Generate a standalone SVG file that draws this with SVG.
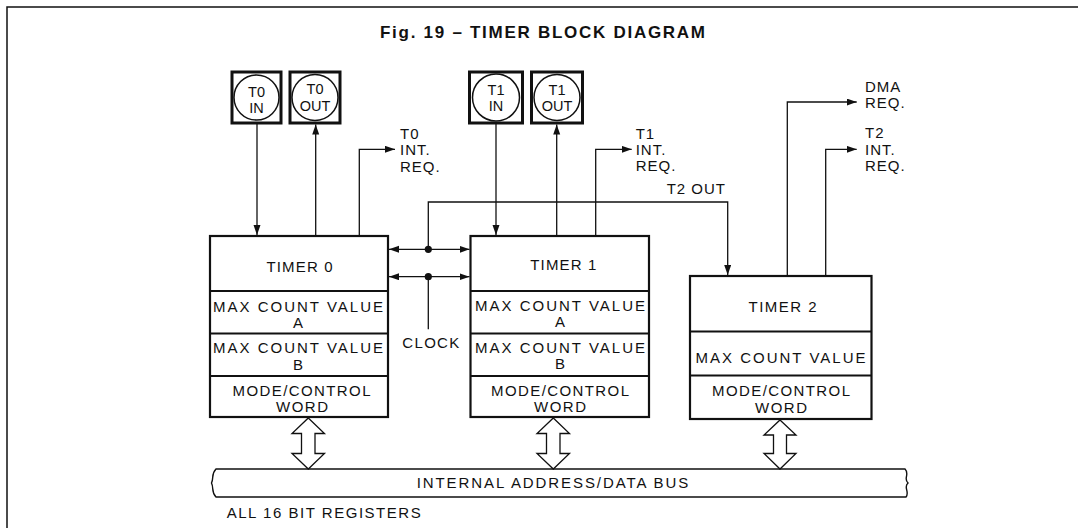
<svg xmlns="http://www.w3.org/2000/svg" width="1078" height="528" viewBox="0 0 1078 528">
<style>
text{font-family:"Liberation Sans",Arial,sans-serif;fill:#111;}
.t{font-size:15px;text-anchor:middle;}
.l{font-size:15px;letter-spacing:1px;}
.p{font-size:14.5px;text-anchor:middle;}
.box{fill:#fff;stroke:#111;stroke-width:2.2;}
.div{stroke:#111;stroke-width:2;}
.pad{fill:#fff;stroke:#111;stroke-width:3;}
.circ{fill:#fff;stroke:#111;stroke-width:1.5;}
.c{fill:none;stroke:#111;stroke-width:1.3;}
.dbl{fill:#fff;stroke:#111;stroke-width:1.3;stroke-linejoin:miter;}
</style>
<defs>
<marker id="ah" markerUnits="userSpaceOnUse" markerWidth="11" markerHeight="8" refX="10" refY="3.5" orient="auto-start-reverse">
<path d="M0,0 L10,3.5 L0,7 z" fill="#111"/>
</marker>
</defs>
<rect width="1078" height="528" fill="#fff"/>
<path d="M7,528 V7 H1078" fill="none" stroke="#111" stroke-width="1.5"/>
<text x="542.5" y="38" style="font-size:17px;font-weight:bold;text-anchor:middle" textLength="325" lengthAdjust="spacing">Fig. 19 – TIMER BLOCK DIAGRAM</text>

<g id="t0in">
<rect class="pad" x="232" y="72" width="49" height="51"/>
<circle class="circ" cx="256.5" cy="97.5" r="22.5"/>
<text class="p" x="256.5" y="96.5">T0</text>
<text class="p" x="256.5" y="112.5">IN</text>
</g>
<g id="t0out">
<rect class="pad" x="290" y="72" width="50" height="51"/>
<circle class="circ" cx="315" cy="97.5" r="23"/>
<text class="p" x="315" y="94">T0</text>
<text class="p" x="315" y="111">OUT</text>
</g>
<g id="t1in">
<rect class="pad" x="469.5" y="72" width="53" height="51"/>
<circle class="circ" cx="496" cy="97.5" r="23.5"/>
<text class="p" x="496" y="95">T1</text>
<text class="p" x="496" y="111">IN</text>
</g>
<g id="t1out">
<rect class="pad" x="531.5" y="72" width="51" height="51"/>
<circle class="circ" cx="557" cy="97.5" r="23"/>
<text class="p" x="557" y="95">T1</text>
<text class="p" x="557" y="111">OUT</text>
</g>

<g id="timer0">
<rect class="box" x="210" y="236" width="178" height="181"/>
<line class="div" x1="210" y1="291" x2="388" y2="291"/>
<line class="div" x1="210" y1="333.5" x2="388" y2="333.5"/>
<line class="div" x1="210" y1="376" x2="388" y2="376"/>
<text class="t" x="299.5" y="272" textLength="66" lengthAdjust="spacing">TIMER 0</text>
<text class="t" x="298" y="311.5" textLength="170" lengthAdjust="spacing">MAX COUNT VALUE</text>
<text class="t" x="298" y="328">A</text>
<text class="t" x="298" y="353" textLength="170" lengthAdjust="spacing">MAX COUNT VALUE</text>
<text class="t" x="298" y="370">B</text>
<text class="t" x="301.5" y="396" textLength="138" lengthAdjust="spacing">MODE/CONTROL</text>
<text class="t" x="302" y="412" textLength="52" lengthAdjust="spacing">WORD</text>
</g>

<g id="timer1">
<rect class="box" x="470.5" y="236" width="178.5" height="181"/>
<line class="div" x1="470.5" y1="291" x2="649" y2="291"/>
<line class="div" x1="470.5" y1="333.5" x2="649" y2="333.5"/>
<line class="div" x1="470.5" y1="376" x2="649" y2="376"/>
<text class="t" x="563.3" y="270" textLength="66" lengthAdjust="spacing">TIMER 1</text>
<text class="t" x="560" y="310.7" textLength="170" lengthAdjust="spacing">MAX COUNT VALUE</text>
<text class="t" x="560" y="326.7">A</text>
<text class="t" x="560" y="353.3" textLength="170" lengthAdjust="spacing">MAX COUNT VALUE</text>
<text class="t" x="560" y="369.3">B</text>
<text class="t" x="560" y="395.5" textLength="138" lengthAdjust="spacing">MODE/CONTROL</text>
<text class="t" x="560" y="411.5" textLength="52" lengthAdjust="spacing">WORD</text>
</g>

<g id="timer2">
<rect class="box" x="690" y="276" width="181.5" height="143"/>
<line class="div" x1="690" y1="331.5" x2="871.5" y2="331.5"/>
<line class="div" x1="690" y1="375.5" x2="871.5" y2="375.5"/>
<text class="t" x="782.5" y="311.5" textLength="68" lengthAdjust="spacing">TIMER 2</text>
<text class="t" x="780.5" y="363.3" textLength="170" lengthAdjust="spacing">MAX COUNT VALUE</text>
<text class="t" x="781" y="396" textLength="138" lengthAdjust="spacing">MODE/CONTROL</text>
<text class="t" x="781" y="412.5" textLength="52" lengthAdjust="spacing">WORD</text>
</g>

<g id="bus">
<path d="M216,469 H905 C910,474 903,479 908,483 C903,487 910,492 906,497 H216 C211,492 214,488 211.5,483 C214,478 211,474 216,469 Z" fill="#fff" stroke="#111" stroke-width="1.4"/>
<text x="416.7" y="488.3" style="font-size:15px" textLength="271.6" lengthAdjust="spacing">INTERNAL ADDRESS/DATA BUS</text>
</g>
<text x="226.7" y="518.3" style="font-size:15px" textLength="194" lengthAdjust="spacing">ALL 16 BIT REGISTERS</text>

<g id="connectors">
<line class="c" x1="257" y1="123.5" x2="257" y2="235" marker-end="url(#ah)"/>
<line class="c" x1="315.7" y1="236" x2="315.7" y2="124.5" marker-end="url(#ah)"/>
<polyline class="c" points="359.3,236 359.3,149.3 395,149.3" marker-end="url(#ah)"/>
<line class="c" x1="496" y1="123.5" x2="496" y2="235" marker-end="url(#ah)"/>
<line class="c" x1="556.7" y1="236" x2="556.7" y2="124.5" marker-end="url(#ah)"/>
<polyline class="c" points="595.7,236 595.7,149.3 631.7,149.3" marker-end="url(#ah)"/>
<polyline class="c" points="787.3,276 787.3,102 856.7,102" marker-end="url(#ah)"/>
<polyline class="c" points="825.7,276 825.7,149.3 856.7,149.3" marker-end="url(#ah)"/>
<polyline class="c" points="428.3,249.3 428.3,202 727.7,202 727.7,275" marker-end="url(#ah)"/>
<line class="c" x1="389" y1="249.3" x2="469.5" y2="249.3" marker-start="url(#ah)" marker-end="url(#ah)"/>
<line class="c" x1="389" y1="276.7" x2="469.5" y2="276.7" marker-start="url(#ah)" marker-end="url(#ah)"/>
<line class="c" x1="428.3" y1="276.7" x2="428.3" y2="329.3"/>
<circle cx="428.3" cy="249.3" r="3.6" fill="#111"/>
<circle cx="428.3" cy="276.7" r="3.6" fill="#111"/>
<polygon class="dbl" points="308.3,418 324.5,433.5 315,433.5 315,453.5 324.5,453.5 308.3,469 292,453.5 301.5,453.5 301.5,433.5 292,433.5"/>
<polygon class="dbl" points="553.3,418 569.5,433.5 560,433.5 560,453.5 569.5,453.5 553.3,469 537,453.5 546.5,453.5 546.5,433.5 537,433.5"/>
<polygon class="dbl" points="780,420 796,435 786.5,435 786.5,453.5 796,453.5 780,469 764,453.5 773.5,453.5 773.5,435 764,435"/>
</g>

<g id="labels">
<text class="l" x="400" y="139.3">T0</text>
<text class="l" x="400" y="155">INT.</text>
<text class="l" x="400" y="171.5">REQ.</text>
<text class="l" x="635.7" y="138.5">T1</text>
<text class="l" x="635.7" y="154.5">INT.</text>
<text class="l" x="635.7" y="170.5">REQ.</text>
<text class="l" x="865" y="92.3">DMA</text>
<text class="l" x="865" y="108.3">REQ.</text>
<text class="l" x="865" y="138">T2</text>
<text class="l" x="865" y="154.5">INT.</text>
<text class="l" x="865" y="171">REQ.</text>
<text x="666.7" y="194" style="font-size:15px" textLength="58.3" lengthAdjust="spacing">T2 OUT</text>
<text x="402.3" y="348.3" style="font-size:15px" textLength="57" lengthAdjust="spacing">CLOCK</text>
</g>
</svg>
